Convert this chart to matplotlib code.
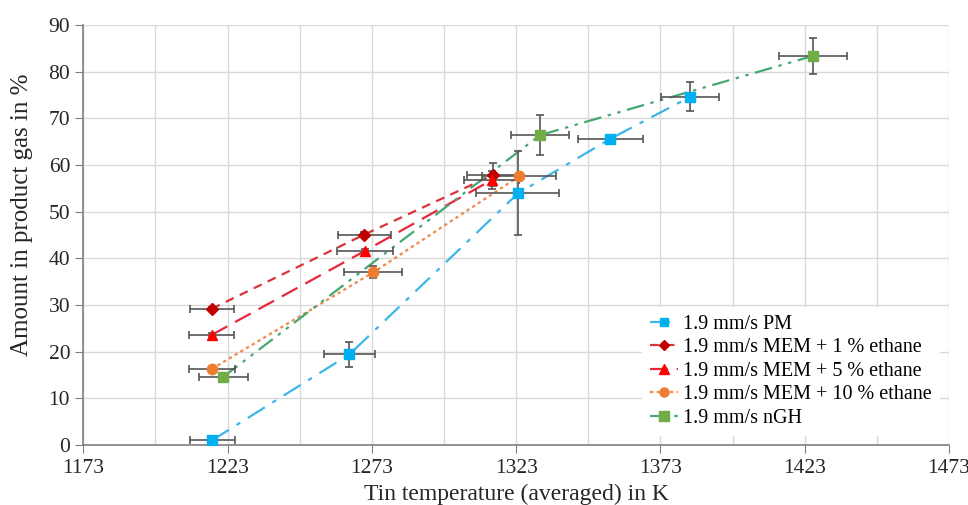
import matplotlib
matplotlib.use("Agg")
import matplotlib.pyplot as plt

plt.rcParams['font.family'] = ['Liberation Serif', 'DejaVu Serif']

# ---- data ----
pm_T = [1217.6, 1265.2, 1323.6, 1355.6, 1383.3]
pm_y = [1.0, 19.4, 53.9, 65.6, 74.6]
pm_xerr = [7.8, 8.9, 14.4, 11.3, 10.0]
pm_yerr = [0.5, 2.7, 9.0, 0.5, 3.1]

m1_T = [1217.5, 1270.4, 1315.1]
m1_y = [29.2, 45.1, 57.9]
m1_xerr = [7.7, 9.1, 9.0]
m1_yerr = [0.3, 0.5, 2.5]

m5_T = [1217.5, 1270.6, 1314.6]
m5_y = [23.6, 41.6, 56.8]
m5_xerr = [7.8, 9.7, 9.5]
m5_yerr = [0.3, 0.5, 2.0]

m10_T = [1217.5, 1273.5, 1324.1]
m10_y = [16.3, 37.0, 57.6]
m10_xerr = [8.0, 10.0, 12.8]
m10_yerr = [0.3, 1.3, 0.5]

ngh_T = [1221.5, 1331.3, 1426.0]
ngh_y = [14.6, 66.4, 83.4]
ngh_xerr = [8.4, 10.0, 11.8]
ngh_yerr = [0.3, 4.3, 3.8]

labels = ["1.9 mm/s PM", "1.9 mm/s MEM + 1 % ethane", "1.9 mm/s MEM + 5 % ethane",
          "1.9 mm/s MEM + 10 % ethane", "1.9 mm/s nGH"]
xticks = [1173, 1223, 1273, 1323, 1373, 1423, 1473]
xminor = [1198, 1248, 1298, 1348, 1398, 1448]
yticks = [0, 10, 20, 30, 40, 50, 60, 70, 80, 90]

# ---- figure ----
fig = plt.figure(figsize=(9.68, 5.05), dpi=100)
ax = fig.add_axes([0.0861, 0.1188, 0.8942, 0.8317])

series = [
    (pm_T, pm_y, pm_xerr, pm_yerr, '#00B0F0', '#3CB6E6', 's', (0, (9, 4, 2, 4)), 7),
    (m1_T, m1_y, m1_xerr, m1_yerr, '#C00000', '#D9343A', 'D', (0, (4, 3)), 6.5),
    (m5_T, m5_y, m5_xerr, m5_yerr, '#FF0000', '#E8283A', '^', (0, (8, 4)), 7.5),
    (m10_T, m10_y, m10_xerr, m10_yerr, '#ED7D31', '#F08A4B', 'o', (0, (1.5, 1.5)), 7.5),
    (ngh_T, ngh_y, ngh_xerr, ngh_yerr, '#70AD47', '#45A873', 's', (0, (8, 3, 1.5, 3, 1.5, 3)), 7.5),
]

handles = []
for (T, y, xe, ye, mc, lc, mk, ls, ms), lab in zip(series, labels):
    ax.errorbar(T, y, xerr=xe, yerr=ye, fmt='none', ecolor='#555555',
                elinewidth=1.2, capsize=3, capthick=1.2, zorder=3)
    ax.plot(T, y, color=lc, linestyle=ls, linewidth=1.6, zorder=2)
    ax.plot(T, y, linestyle='none', marker=mk, color=mc, markersize=ms, zorder=4)
    h, = ax.plot([], [], color=lc, linestyle=ls, linewidth=1.6, marker=mk,
                 markerfacecolor=mc, markeredgecolor=mc, markersize=ms - 1,
                 markevery=[1])
    handles.append(h)

ax.set_xlim(1173, 1473)
ax.set_ylim(0, 90)
ax.set_xticks(xticks)
ax.set_xticks(xminor, minor=True)
ax.set_yticks(yticks)
ax.grid(True, which='both', axis='x', color='#D9D9D9', linewidth=1)
ax.grid(True, which='major', axis='y', color='#D9D9D9', linewidth=1)
ax.set_axisbelow(True)
ax.tick_params(axis='x', which='minor', length=0)
ax.tick_params(axis='both', which='major', length=6, color='#7F7F7F',
               labelsize=15.5, labelcolor='#262626', direction='out')
ax.tick_params(axis='x', which='major', pad=4)
for s in ['top', 'right']:
    ax.spines[s].set_visible(False)
for s in ['left', 'bottom']:
    ax.spines[s].set_color('#7F7F7F')
    ax.spines[s].set_linewidth(1.2)

ax.set_xlabel("Tin temperature (averaged) in K", fontsize=17, color='#262626')
ax.xaxis.set_label_coords(0.5, -0.092)
ax.set_ylabel("Amount in product gas in %", fontsize=18, color='#262626')
ax.yaxis.set_label_coords(-0.058, 0.548)

leg = ax.legend(handles, labels, loc='lower right', bbox_to_anchor=(1.0, 0.0),
                fontsize=14.5, frameon=True, framealpha=1, edgecolor='white',
                handlelength=1.4, handletextpad=0.25, labelspacing=0.22,
                borderaxespad=0.45)
leg.get_frame().set_linewidth(0)

fig.savefig("out.png", dpi=100)
